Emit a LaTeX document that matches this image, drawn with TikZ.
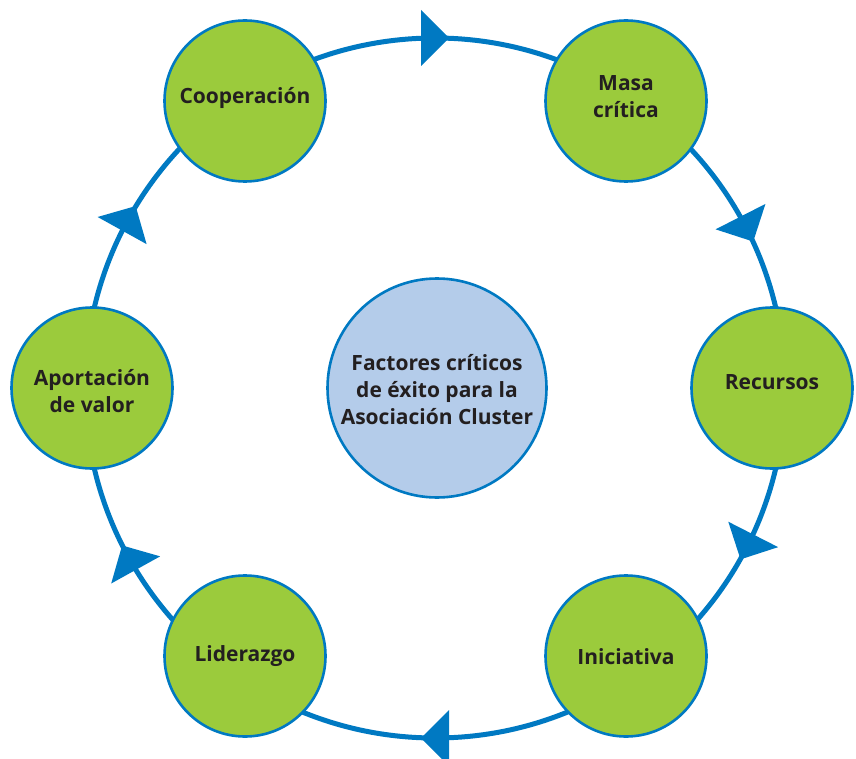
\documentclass[tikz,border=0pt]{standalone}
\usepackage{fontspec}
\setmainfont{Open Sans}
\usetikzlibrary{calc}
\definecolor{ringblue}{HTML}{0079C2}
\definecolor{nodegreen}{HTML}{9BCB3C}
\definecolor{centerblue}{HTML}{B4CCEA}
\definecolor{txtcol}{HTML}{231F20}
\begin{document}
\begin{tikzpicture}[x=1pt,y=-1pt,
  factor/.style={circle, draw=ringblue, line width=2.6pt, fill=nodegreen,
    minimum size=161pt, inner sep=0pt},
  core/.style={factor, fill=centerblue, minimum size=219pt},
  lbl/.style={inner sep=0pt, align=center, text=txtcol,
    font=\fontsize{21}{27}\selectfont\bfseries},
  ring/.style={draw=ringblue, line width=5pt},
  tri/.style={fill=ringblue}]
\useasboundingbox (0,0) rectangle (856,759);
\coordinate (c) at (435,388);
\draw[ring] (c) circle[radius=350];
\foreach \a in {270,333,27,90,151,209}{
  \fill[tri] ($(c)+(\a:350)+(\a+90:14)$)
    -- ($(c)+(\a:350)+(\a+270:14)+(\a:28)$)
    -- ($(c)+(\a:350)+(\a+270:14)+(\a+180:28)$) -- cycle;
}
\node[core] (centre) at (437,388) {};
\node[factor] (coop) at (245,101) {};
\node[factor] (masa) at (626,101) {};
\node[factor] (rec) at (772,388) {};
\node[factor] (ini) at (626,656) {};
\node[factor] (lid) at (245,656) {};
\node[factor] (apor) at (92,388) {};
\node[lbl] (centret) at (437,390) {Factores críticos\\de éxito para la\\Asociación Cluster};
\node[lbl] (coopt) at ($(coop)+(0,-3)$) {Cooperación};
\node[lbl] (masat) at ($(masa)+(0,-4)$) {Masa\\crítica};
\node[lbl] (rect) at ($(rec)+(0,-6)$) {Recursos};
\node[lbl] (init) at ($(ini)+(0,1)$) {Iniciativa};
\node[lbl] (lidt) at ($(lid)+(0,0)$) {Liderazgo};
\node[lbl] (aport) at ($(apor)+(0,3)$) {Aportación\\de valor};
\end{tikzpicture}
\end{document}
